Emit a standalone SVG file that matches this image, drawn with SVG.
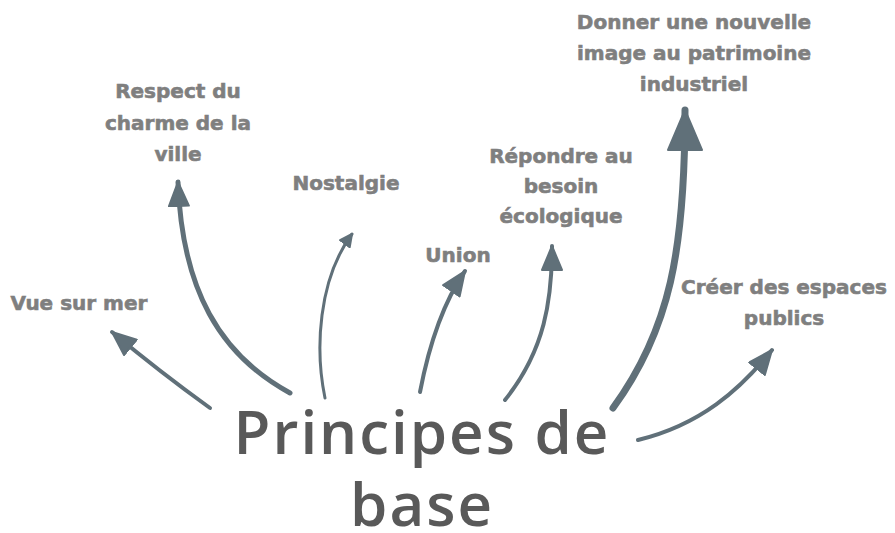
<svg xmlns="http://www.w3.org/2000/svg" width="895" height="533" viewBox="0 0 895 533">
<style>
.lbl{font-family:"DejaVu Sans",sans-serif;font-weight:bold;font-size:20px;fill:#7f7f7f;stroke:#7f7f7f;stroke-width:0.6;text-anchor:middle}
.main{font-family:"Open Sans","DejaVu Sans",sans-serif;font-weight:600;font-size:60px;letter-spacing:2px;fill:#595959;text-anchor:middle}
.c{fill:none;stroke:#607079;stroke-linecap:round}
.h{fill:#607079;stroke:#607079;stroke-linejoin:round;stroke-width:2}
</style>
<defs>
<marker id="ms" markerUnits="userSpaceOnUse" viewBox="-1 -1 14 14" refX="12" refY="6" markerWidth="14" markerHeight="14" orient="auto"><path class="h" d="M0,0 L12,6 L0,12 z"/></marker>
<marker id="mm" markerUnits="userSpaceOnUse" viewBox="-1 -1 26 22" refX="24" refY="10" markerWidth="26" markerHeight="22" orient="auto"><path class="h" d="M0,0 L24,10 L0,20 z"/></marker>
<marker id="ml" markerUnits="userSpaceOnUse" viewBox="-1 -1 42 36" refX="40" refY="17" markerWidth="42" markerHeight="36" orient="auto"><path class="h" d="M0,0 L40,17 L0,34 z"/></marker>
</defs>
<rect width="895" height="533" fill="#ffffff"/>
<g id="connectors">
<path class="c" stroke-width="4" d="M210,408 Q160,372 112,332" marker-end="url(#mm)"/>
<path class="c" stroke-width="5" d="M290,393 C220,355 182,290 178,182" marker-end="url(#mm)"/>
<path class="c" stroke-width="3" d="M325,398 C315,350 318,280 352,234" marker-end="url(#ms)"/>
<path class="c" stroke-width="4" d="M420,392 C430,340 445,300 465,271" marker-end="url(#mm)"/>
<path class="c" stroke-width="4" d="M505,400 C545,350 552,300 552,246" marker-end="url(#mm)"/>
<path class="c" stroke-width="7" d="M613,408 C670,330 685,250 685,110" marker-end="url(#ml)"/>
<path class="c" stroke-width="4" d="M638,440 C700,425 740,390 772,350" marker-end="url(#mm)"/>
</g>
<g id="center"><text class="main" x="422" y="454">Principes de</text><text class="main" x="422" y="526">base</text></g>
<g id="vue"><text class="lbl" x="79" y="310">Vue sur mer</text></g>
<g id="respect"><text class="lbl" x="178" y="98">Respect du</text><text class="lbl" x="178" y="130">charme de la</text><text class="lbl" x="178" y="161">ville</text></g>
<g id="nostalgie"><text class="lbl" x="346" y="190">Nostalgie</text></g>
<g id="union"><text class="lbl" x="458" y="262">Union</text></g>
<g id="repondre"><text class="lbl" x="561" y="163">Répondre au</text><text class="lbl" x="561" y="193">besoin</text><text class="lbl" x="561" y="223">écologique</text></g>
<g id="donner"><text class="lbl" x="694" y="29">Donner une nouvelle</text><text class="lbl" x="694" y="60">image au patrimoine</text><text class="lbl" x="694" y="91">industriel</text></g>
<g id="creer"><text class="lbl" x="784" y="294">Créer des espaces</text><text class="lbl" x="784" y="325">publics</text></g>
</svg>
